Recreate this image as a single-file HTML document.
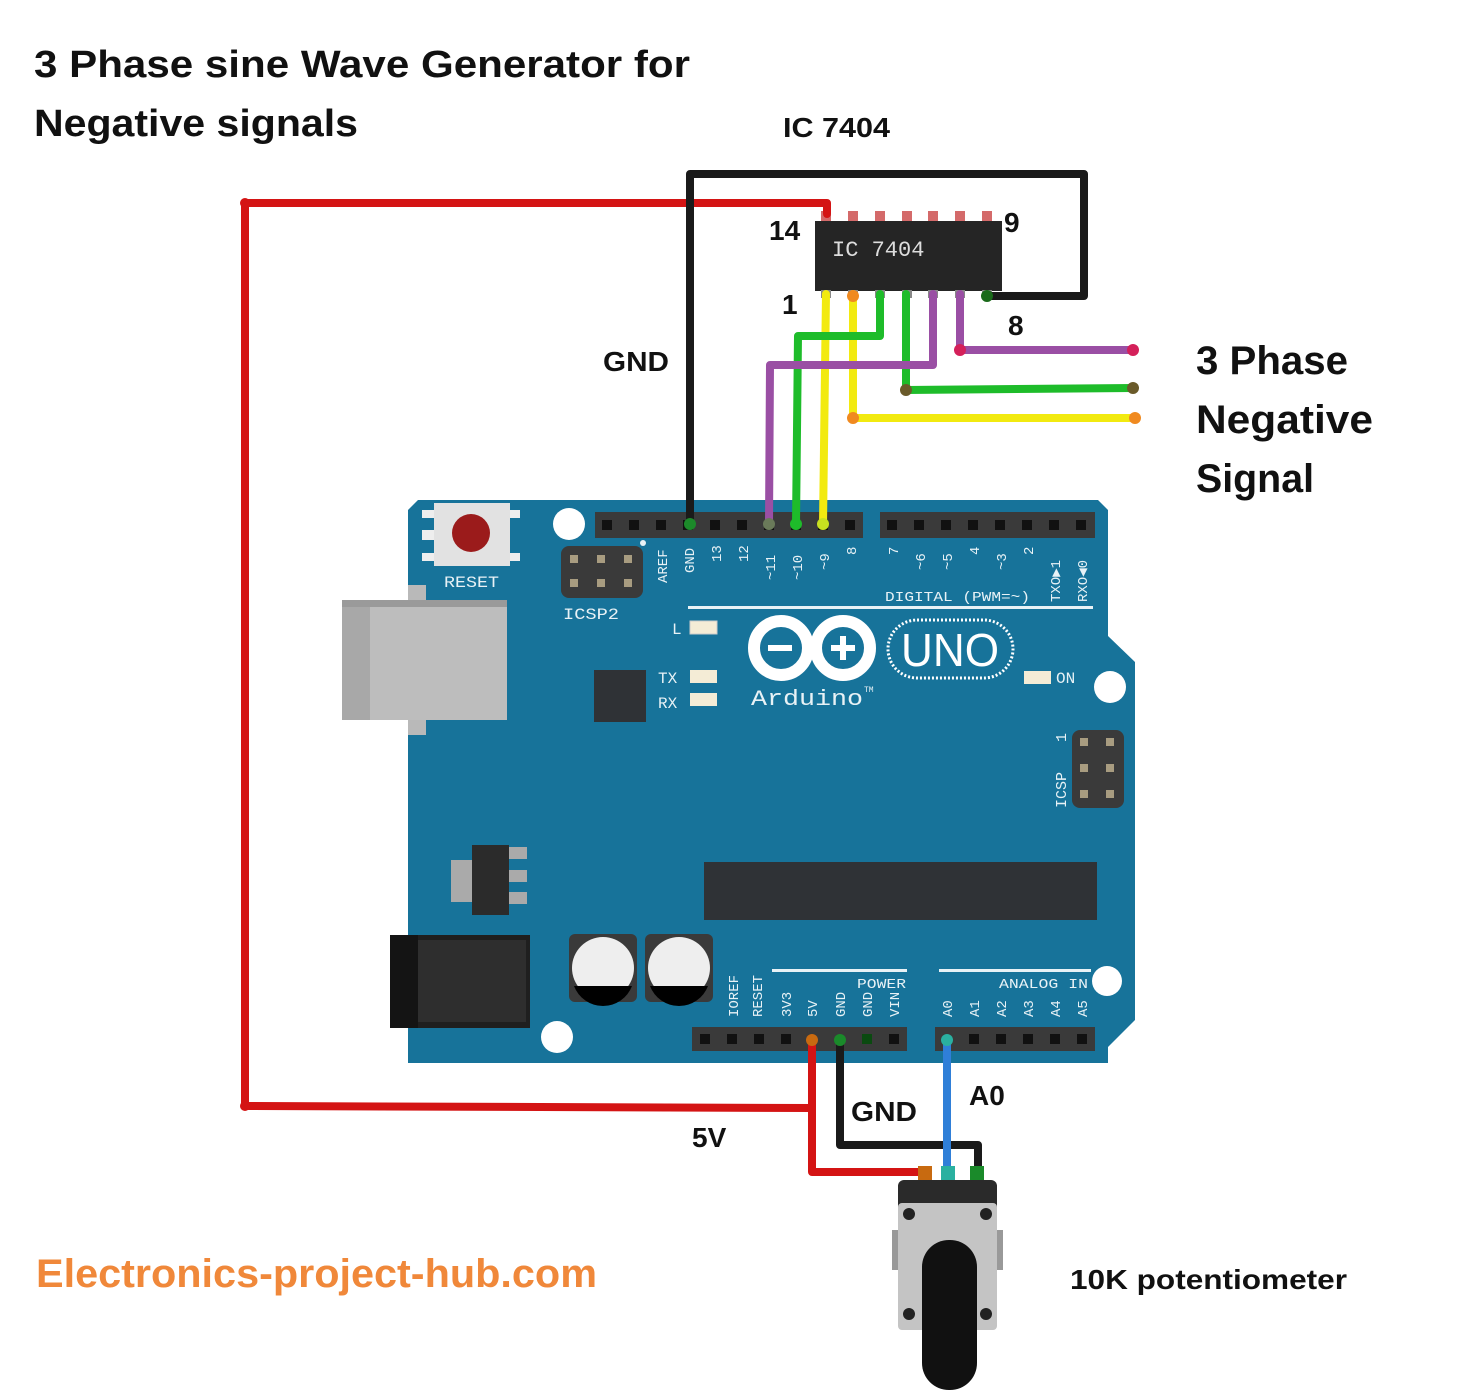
<!DOCTYPE html>
<html><head><meta charset="utf-8"><style>
html,body{margin:0;padding:0;background:#fff;}
svg{display:block;}
.t{font-family:"Liberation Sans",sans-serif;font-weight:bold;fill:#111;}
.m{font-family:"Liberation Mono",monospace;fill:#e8f2f6;}
</style></head><body>
<svg width="1464" height="1398" viewBox="0 0 1464 1398" xmlns="http://www.w3.org/2000/svg">
<rect width="1464" height="1398" fill="#fff"/>

<text class="t" x="34" y="77" font-size="38" textLength="656" lengthAdjust="spacingAndGlyphs">3 Phase sine Wave Generator for</text>
<text class="t" x="34" y="136" font-size="38" textLength="324" lengthAdjust="spacingAndGlyphs">Negative signals</text>
<text class="t" x="783" y="137" font-size="28" textLength="107" lengthAdjust="spacingAndGlyphs">IC 7404</text>
<text class="t" x="603" y="371" font-size="28" textLength="66" lengthAdjust="spacingAndGlyphs">GND</text>
<text class="t" x="1196" y="374" font-size="40" textLength="152" lengthAdjust="spacingAndGlyphs">3 Phase</text>
<text class="t" x="1196" y="433" font-size="40" textLength="177" lengthAdjust="spacingAndGlyphs">Negative</text>
<text class="t" x="1196" y="492" font-size="40" textLength="118" lengthAdjust="spacingAndGlyphs">Signal</text>
<text class="t" x="769" y="240" font-size="28">14</text>
<text class="t" x="1004" y="232" font-size="28">9</text>
<text class="t" x="782" y="314" font-size="28">1</text>
<text class="t" x="1008" y="335" font-size="28">8</text>
<text class="t" x="851" y="1121" font-size="28" textLength="66" lengthAdjust="spacingAndGlyphs">GND</text>
<text class="t" x="969" y="1105" font-size="28">A0</text>
<text class="t" x="692" y="1147" font-size="28">5V</text>
<text class="t" x="1070" y="1289" font-size="28" textLength="277" lengthAdjust="spacingAndGlyphs">10K potentiometer</text>
<text x="36" y="1287" font-size="40" font-family="Liberation Sans,sans-serif" font-weight="bold" fill="#f0883a" textLength="561" lengthAdjust="spacingAndGlyphs">Electronics-project-hub.com</text>

<path d="M418,500 L1098,500 L1108,510 L1108,636 L1135,662 L1135,1020 L1108,1047 L1108,1063 L408,1063 L408,510 Z" fill="#17739a"/>
<rect x="408" y="585" width="18" height="150" fill="#b9b9b9"/>
<rect x="342" y="600" width="165" height="120" fill="#bdbdbd"/>
<rect x="342" y="600" width="28" height="120" fill="#a8a8a8"/>
<rect x="342" y="600" width="165" height="7" fill="#9a9a9a"/>
<rect x="422" y="510" width="20" height="8" fill="#eee"/><rect x="422" y="530" width="20" height="10" fill="#eee"/><rect x="422" y="553" width="20" height="8" fill="#eee"/>
<rect x="500" y="510" width="20" height="8" fill="#eee"/><rect x="500" y="553" width="20" height="8" fill="#eee"/>
<rect x="434" y="503" width="76" height="63" fill="#e2e2e2"/>
<circle cx="471" cy="533" r="19" fill="#9b1b1b"/>
<text class="m" x="444" y="587" font-size="16" textLength="55" lengthAdjust="spacingAndGlyphs">RESET</text>
<circle cx="569" cy="524" r="16" fill="#fff"/>
<circle cx="1110" cy="687" r="16" fill="#fff"/>
<circle cx="557" cy="1037" r="16" fill="#fff"/>
<circle cx="1107" cy="981" r="15" fill="#fff"/>
<rect x="561" y="546" width="82" height="52" rx="8" fill="#3a3a3a"/>
<g fill="#a89c80"><rect x="570" y="555" width="8" height="8"/><rect x="597" y="555" width="8" height="8"/><rect x="624" y="555" width="8" height="8"/><rect x="570" y="579" width="8" height="8"/><rect x="597" y="579" width="8" height="8"/><rect x="624" y="579" width="8" height="8"/></g>
<text class="m" x="563" y="619" font-size="16" textLength="56" lengthAdjust="spacingAndGlyphs">ICSP2</text>
<circle cx="643" cy="543" r="3" fill="#e8f2f6"/>
<rect x="595" y="512" width="268" height="26" fill="#3a3a3a"/>
<rect x="880" y="512" width="215" height="26" fill="#3a3a3a"/>
<g fill="#111">
<rect x="602" y="520" width="10" height="10"/><rect x="629" y="520" width="10" height="10"/><rect x="656" y="520" width="10" height="10"/><rect x="683" y="520" width="10" height="10"/><rect x="710" y="520" width="10" height="10"/><rect x="737" y="520" width="10" height="10"/><rect x="764" y="520" width="10" height="10"/><rect x="791" y="520" width="10" height="10"/><rect x="818" y="520" width="10" height="10"/><rect x="845" y="520" width="10" height="10"/>
<rect x="887" y="520" width="10" height="10"/><rect x="914" y="520" width="10" height="10"/><rect x="941" y="520" width="10" height="10"/><rect x="968" y="520" width="10" height="10"/><rect x="995" y="520" width="10" height="10"/><rect x="1022" y="520" width="10" height="10"/><rect x="1049" y="520" width="10" height="10"/><rect x="1076" y="520" width="10" height="10"/>
</g>
<g class="m" font-size="14">
<text transform="translate(667,583) rotate(-90)">AREF</text>
<text transform="translate(694,573) rotate(-90)">GND</text>
<text transform="translate(721,562) rotate(-90)">13</text>
<text transform="translate(748,562) rotate(-90)">12</text>
<text transform="translate(775,580) rotate(-90)">~11</text>
<text transform="translate(802,580) rotate(-90)">~10</text>
<text transform="translate(829,570) rotate(-90)">~9</text>
<text transform="translate(856,555) rotate(-90)">8</text>
<text transform="translate(898,555) rotate(-90)">7</text>
<text transform="translate(925,570) rotate(-90)">~6</text>
<text transform="translate(952,570) rotate(-90)">~5</text>
<text transform="translate(979,555) rotate(-90)">4</text>
<text transform="translate(1006,570) rotate(-90)">~3</text>
<text transform="translate(1033,555) rotate(-90)">2</text>
<text transform="translate(1060,602) rotate(-90)">TXO▶1</text>
<text transform="translate(1087,602) rotate(-90)">RXO◀0</text>
</g>
<text class="m" x="885" y="601" font-size="14" textLength="145" lengthAdjust="spacingAndGlyphs">DIGITAL (PWM=~)</text>
<rect x="688" y="606" width="405" height="3" fill="#e8f2f6"/>
<text class="m" x="672" y="634" font-size="16">L</text>
<rect x="690" y="621" width="27" height="13" fill="#f4ecd6" stroke="#ccc"/>
<text class="m" x="658" y="683" font-size="16">TX</text>
<rect x="690" y="670" width="27" height="13" fill="#f4ecd6"/>
<text class="m" x="658" y="708" font-size="16">RX</text>
<rect x="690" y="693" width="27" height="13" fill="#f4ecd6"/>
<rect x="594" y="670" width="52" height="52" fill="#2f3236"/>
<rect x="1024" y="671" width="27" height="13" fill="#f4ecd6"/>
<text class="m" x="1056" y="683" font-size="16">ON</text>
<g fill="none" stroke="#fff" stroke-width="12">
<circle cx="781" cy="648" r="27"/><circle cx="843" cy="648" r="27"/>
</g>
<rect x="768" y="645" width="24" height="6" fill="#fff"/>
<rect x="831" y="645" width="24" height="6" fill="#fff"/><rect x="840" y="636" width="6" height="24" fill="#fff"/>
<rect x="888" y="620" width="125" height="58" rx="29" fill="none" stroke="#fff" stroke-width="3" stroke-dasharray="2 2"/>
<text x="950" y="666" font-size="46" font-family="Liberation Sans,sans-serif" fill="#fff" text-anchor="middle" textLength="98" lengthAdjust="spacingAndGlyphs">UNO</text>
<text class="m" x="751" y="705" font-size="22" fill="#fff" textLength="112" lengthAdjust="spacingAndGlyphs">Arduino</text>
<text class="m" x="864" y="692" font-size="8">TM</text>
<rect x="1072" y="730" width="52" height="78" rx="8" fill="#3a3a3a"/>
<g fill="#a89c80"><rect x="1080" y="738" width="8" height="8"/><rect x="1106" y="738" width="8" height="8"/><rect x="1080" y="764" width="8" height="8"/><rect x="1106" y="764" width="8" height="8"/><rect x="1080" y="790" width="8" height="8"/><rect x="1106" y="790" width="8" height="8"/></g>
<text class="m" transform="translate(1066,808) rotate(-90)" font-size="15">ICSP</text>
<text class="m" transform="translate(1066,742) rotate(-90)" font-size="15">1</text>
<rect x="704" y="862" width="393" height="58" fill="#2f3236"/>
<rect x="451" y="860" width="26" height="42" fill="#aaa"/>
<rect x="508" y="847" width="19" height="12" fill="#aaa"/><rect x="508" y="870" width="19" height="12" fill="#aaa"/><rect x="508" y="892" width="19" height="12" fill="#aaa"/>
<rect x="472" y="845" width="37" height="70" fill="#2b2b2b"/>
<rect x="390" y="935" width="140" height="93" fill="#1f1f1f"/>
<rect x="418" y="940" width="108" height="82" fill="#2e2e2e"/>
<rect x="390" y="935" width="28" height="93" fill="#141414"/>
<rect x="569" y="934" width="68" height="68" rx="6" fill="#3a3a3a"/>
<rect x="645" y="934" width="68" height="68" rx="6" fill="#3a3a3a"/>
<circle cx="603" cy="968" r="31" fill="#eee"/><circle cx="679" cy="968" r="31" fill="#eee"/>
<path d="M574,986 L632,986 A31,31 0 0 1 574,986 Z" fill="#000"/>
<path d="M650,986 L708,986 A31,31 0 0 1 650,986 Z" fill="#000"/>
<rect x="692" y="1027" width="215" height="24" fill="#3a3a3a"/>
<rect x="935" y="1027" width="160" height="24" fill="#3a3a3a"/>
<g fill="#111">
<rect x="700" y="1034" width="10" height="10"/><rect x="727" y="1034" width="10" height="10"/><rect x="754" y="1034" width="10" height="10"/><rect x="781" y="1034" width="10" height="10"/><rect x="862" y="1034" width="10" height="10" fill="#0a4a10"/><rect x="889" y="1034" width="10" height="10"/>
<rect x="969" y="1034" width="10" height="10"/><rect x="996" y="1034" width="10" height="10"/><rect x="1023" y="1034" width="10" height="10"/><rect x="1050" y="1034" width="10" height="10"/><rect x="1077" y="1034" width="10" height="10"/>
</g>
<rect x="772" y="969" width="135" height="3" fill="#e8f2f6"/>
<rect x="939" y="969" width="152" height="3" fill="#e8f2f6"/>
<text class="m" x="857" y="988" font-size="14" textLength="49" lengthAdjust="spacingAndGlyphs">POWER</text>
<text class="m" x="999" y="988" font-size="14" textLength="89" lengthAdjust="spacingAndGlyphs">ANALOG IN</text>
<g class="m" font-size="14">
<text transform="translate(738,1017) rotate(-90)">IOREF</text>
<text transform="translate(762,1017) rotate(-90)">RESET</text>
<text transform="translate(791,1017) rotate(-90)">3V3</text>
<text transform="translate(817,1017) rotate(-90)">5V</text>
<text transform="translate(845,1017) rotate(-90)">GND</text>
<text transform="translate(872,1017) rotate(-90)">GND</text>
<text transform="translate(899,1017) rotate(-90)">VIN</text>
<text transform="translate(952,1017) rotate(-90)">A0</text>
<text transform="translate(979,1017) rotate(-90)">A1</text>
<text transform="translate(1006,1017) rotate(-90)">A2</text>
<text transform="translate(1033,1017) rotate(-90)">A3</text>
<text transform="translate(1060,1017) rotate(-90)">A4</text>
<text transform="translate(1087,1017) rotate(-90)">A5</text>
</g>

<g fill="#d46a6a">
<rect x="821" y="211" width="10" height="12"/><rect x="848" y="211" width="10" height="12"/><rect x="875" y="211" width="10" height="12"/><rect x="902" y="211" width="10" height="12"/><rect x="928" y="211" width="10" height="12"/><rect x="955" y="211" width="10" height="12"/><rect x="982" y="211" width="10" height="12"/>
</g>
<rect x="815" y="221" width="187" height="70" fill="#252525"/>
<text x="832" y="256" font-size="22" font-family="Liberation Mono,monospace" fill="#ddd">IC 7404</text>
<g fill="#888"><rect x="821" y="290" width="10" height="8"/><rect x="848" y="290" width="10" height="8"/><rect x="875" y="290" width="10" height="8"/><rect x="902" y="290" width="10" height="8"/><rect x="928" y="290" width="10" height="8"/><rect x="955" y="290" width="10" height="8"/><rect x="982" y="290" width="10" height="8"/></g>

<g fill="none" stroke-linejoin="round" stroke-linecap="round" stroke-width="8">
<path d="M245,203 L827,203 L827,214" stroke="#d41414"/>
<path d="M245,203 L245,1106 L812,1108" stroke="#d41414"/>
<path d="M812,1040 L812,1172 L918,1172" stroke="#d41414"/>
<path d="M690,524 L690,174 L1084,174 L1084,296 L987,296" stroke="#1a1a1a"/>
<path d="M840,1040 L840,1145 L978,1145 L978,1170" stroke="#1a1a1a"/>
<path d="M947,1040 L947,1172" stroke="#2f7fd8"/>
<path d="M826,294 L823,524" stroke="#f2ea10"/>
<path d="M853,294 L853,418 L1135,418" stroke="#f2ea10"/>
<path d="M880,294 L880,336 L798,336 L796,524" stroke="#1ebc2a"/>
<path d="M906,294 L906,390 L1133,388" stroke="#1ebc2a"/>
<path d="M933,294 L933,365 L770,365 L769,524" stroke="#9a4fa4"/>
<path d="M960,294 L960,350 L1133,350" stroke="#9a4fa4"/>
</g>
<g>
<circle cx="245" cy="203" r="5" fill="#d41414"/><circle cx="245" cy="1106" r="5" fill="#d41414"/>
<circle cx="690" cy="524" r="6" fill="#1c8a2a"/><circle cx="769" cy="524" r="6" fill="#6a7a5a"/><circle cx="796" cy="524" r="6" fill="#1ebc2a"/><circle cx="823" cy="524" r="6" fill="#c8e020"/>
<circle cx="853" cy="296" r="6" fill="#f08a20"/><circle cx="853" cy="418" r="6" fill="#f08a20"/><circle cx="1135" cy="418" r="6" fill="#f08a20"/>
<circle cx="906" cy="390" r="6" fill="#6a5a2a"/><circle cx="1133" cy="388" r="6" fill="#6a5a2a"/>
<circle cx="960" cy="350" r="6" fill="#d4205a"/><circle cx="1133" cy="350" r="6" fill="#d4205a"/>
<circle cx="987" cy="296" r="6" fill="#1a6a1a"/>
<circle cx="812" cy="1040" r="6" fill="#c86a10"/><circle cx="840" cy="1040" r="6" fill="#1a8a2a"/><circle cx="947" cy="1040" r="6" fill="#2ab0a0"/>
</g>

<rect x="898" y="1180" width="99" height="55" rx="6" fill="#2a2a2a"/>
<rect x="918" y="1166" width="14" height="14" fill="#c86a10"/>
<rect x="941" y="1166" width="14" height="14" fill="#2ab0a0"/>
<rect x="970" y="1166" width="14" height="14" fill="#1a8a2a"/>
<rect x="892" y="1230" width="9" height="40" fill="#999"/><rect x="994" y="1230" width="9" height="40" fill="#999"/>
<rect x="898" y="1203" width="99" height="127" rx="4" fill="#c4c4c4"/>
<circle cx="909" cy="1214" r="6" fill="#222"/><circle cx="986" cy="1214" r="6" fill="#222"/>
<circle cx="909" cy="1314" r="6" fill="#222"/><circle cx="986" cy="1314" r="6" fill="#222"/>
<rect x="922" y="1240" width="55" height="150" rx="27" fill="#111"/>
</svg>
</body></html>
